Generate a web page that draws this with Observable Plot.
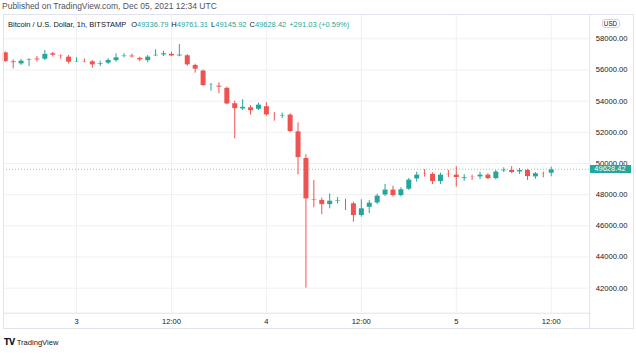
<!DOCTYPE html>
<html><head><meta charset="utf-8">
<script src="https://cdn.jsdelivr.net/npm/d3@7"></script>
<script src="https://cdn.jsdelivr.net/npm/@observablehq/plot@0.6"></script>
<style>
html,body{margin:0;padding:0;background:#fff;width:636px;height:353px;overflow:hidden;font-family:"Liberation Sans",Arial,sans-serif;}
#wrap{position:relative;width:636px;height:353px;}
#chart{position:absolute;left:0;top:0;}
.abs{position:absolute;white-space:nowrap;}
#title{left:2px;top:1px;font-size:8.5px;color:#50535e;}
#legend{left:8px;top:20px;font-size:7.5px;color:#131722;}
#legend .v{color:#26a69a;}
#legend .k{margin-left:3px;}
#usd{left:601.5px;top:19px;width:18px;height:9px;border:1px solid #d1d4dc;border-radius:3px;box-sizing:border-box;font-size:6.3px;line-height:7px;text-align:center;color:#131722;}
#badge{left:589.5px;width:41px;height:8px;background:#26a69a;color:#fff;font-size:7.5px;line-height:8px;text-align:center;}
#outer{left:3px;top:14px;width:630.5px;height:314.5px;border:1px solid #e0e3eb;box-sizing:border-box;}
#sep{left:589px;top:312px;width:1px;height:16px;background:#e0e3eb;}
#logo{left:4px;top:338px;font-size:7.6px;color:#131722;}
#logo b{font-family:"DejaVu Sans",sans-serif;font-weight:900;font-size:8px;letter-spacing:-0.5px;margin-right:2px;}
</style></head><body><div id="wrap">
<div id="chart"></div>
<div class="abs" id="outer"></div>
<div class="abs" id="sep"></div>
<div class="abs" id="title">Published on TradingView.com, Dec 05, 2021 12:34 UTC</div>
<div class="abs" id="legend"></div>
<div class="abs" id="usd">USD</div>
<div class="abs" id="badge"></div>
<div class="abs" id="logo"><b>TV</b>TradingView</div>
</div>
<script>
// ---- data (1h candles, Bitcoin / U.S. Dollar, BITSTAMP) ----
const firstCandleUTC = "2021-12-02T15:00:00Z";
const opens  = [57140,56560,56350,56600,56740,56650,57080,56950,56860,56500,56560,56560,56310,56400,56560,56820,56930,56780,56560,56870,
                56930,57040,56860,56950,56330,55970,54980,55000,54860,53870,53460,53610,53440,53680,53140,53010,53140,52070,50360,47730,
                47670,47320,47550,47600,47450,46620,47150,47430,47940,48330,47900,48310,48970,49380,49340,48800,49340,49290,48990,49190,
                49100,49290,48990,49490,49590,49420,49590,49100,49400,49336.79];
const highs  = [57160,56650,56670,56720,56860,57250,57120,56960,56930,56780,56700,56610,56560,56720,57040,57040,57010,56820,56930,57300,
                57200,57140,57630,56990,56370,55990,55130,55180,54890,54000,54090,53720,53870,53910,53270,53230,53190,52610,50560,48910,
                47780,48050,47830,47710,47520,47670,47620,48030,48650,48540,48440,49040,49440,49610,49400,49380,49550,49800,49290,49250,
                49440,49340,49550,49720,49800,49680,49630,49420,49440,49761.31];
const lows   = [56480,56075,56290,56220,56500,56600,56830,56690,56380,56480,56460,56110,56220,56350,56500,56780,56760,56520,56460,56850,
                56860,56840,56840,56240,55790,54940,54640,54470,53770,51580,53400,53100,53400,53030,52710,52870,51970,49270,42000,47160,
                46720,47090,47410,46980,46230,46550,46780,47370,47880,47840,47860,48270,48800,49120,48650,48650,49100,48480,48860,48910,
                48970,48950,48950,49420,49340,49290,48910,48990,49080,49145.92];
const closes = [56500,56430,56600,56710,56610,57040,56910,56890,56460,56560,56500,56290,56430,56650,56820,56930,56800,56610,56860,56980,
                57080,56860,56990,56290,56010,54960,55070,54860,53780,53480,53640,53350,53780,53080,53060,53120,52010,50340,47690,47620,
                47320,47620,47660,47520,46620,47130,47490,47940,48330,47900,48350,48970,49290,49290,48800,49290,49250,49060,49120,49100,
                49290,48990,49490,49610,49380,49590,49120,49380,49310,49628.42];
const priceTicks = [42000,44000,46000,48000,50000,52000,54000,56000,58000];
const timeTicks = ["2021-12-03T00:00:00Z","2021-12-03T12:00:00Z","2021-12-04T00:00:00Z","2021-12-04T12:00:00Z","2021-12-05T00:00:00Z","2021-12-05T12:00:00Z"];
const timeTickLabels = ["3","12:00","4","12:00","5","12:00"];
const legendChange = "+291.03 (+0.59%)";

// ---- build ----
const H = 3600e3;
const t0 = Date.parse(firstCandleUTC);
const candles = opens.map((o,i)=>({t:new Date(t0+i*H), o, h:highs[i], l:lows[i], c:closes[i]}));
const UP="#26a69a", DN="#ef5350";
const col = d => d.c >= d.o ? UP : DN;
const tickDates = timeTicks.map(s=>new Date(s));
const labelOf = new Map(tickDates.map((d,i)=>[+d, timeTickLabels[i]]));
const day3 = Date.parse(timeTicks[0]);
const last = candles[candles.length-1];

const plot = Plot.plot({
  width:636, height:353,
  marginTop:14, marginBottom:40.3, marginLeft:3, marginRight:46.7,
  style:{fontFamily:"'Liberation Sans', Arial, sans-serif", fontSize:"7.6px", background:"transparent"},
  x:{type:"utc", domain:[new Date(day3-9.226*H), new Date(day3+64.876*H)], label:null},
  y:{domain:[40393,59559], label:null},
  color:{type:"identity"},
  marks:[
    Plot.gridY(priceTicks,{stroke:"#eef0f4", strokeOpacity:1}),
    Plot.gridX(tickDates,{stroke:"#eef0f4", strokeOpacity:1}),
    Plot.frame({stroke:"#e0e3eb"}),
    Plot.ruleY([last.c],{stroke:"#7fcbc3", strokeDasharray:"1,2"}),
    Plot.ruleX(candles,{x:"t", y1:"l", y2:"h", stroke:col, strokeWidth:1}),
    Plot.ruleX(candles,{x:"t", y1:d=>Math.min(d.o,d.c), y2:d=>Math.max(d.o,d.c), stroke:col, strokeWidth:5, insetTop:-0.6, insetBottom:-0.6}),
    Plot.axisY(priceTicks,{anchor:"right", label:null, tickSize:0, tickPadding:6, tickFormat:d=>d.toFixed(2), fill:"#131722", fontSize:7.6}),
    Plot.axisX(tickDates,{anchor:"bottom", label:null, tickSize:0, tickPadding:5.5, tickFormat:d=>labelOf.get(+d), fill:"#131722", fontSize:7.6})
  ]
});
document.getElementById("chart").appendChild(plot);

const yScale = plot.scale("y");
const badge = document.getElementById("badge");
badge.textContent = last.c.toFixed(2);
badge.style.top = (yScale.apply(last.c) - 4) + "px";

document.getElementById("legend").innerHTML =
  `Bitcoin / U.S. Dollar, 1h, BITSTAMP <span class="k">O</span><span class="v">${last.o.toFixed(2)}</span>` +
  `<span class="k">H</span><span class="v">${last.h.toFixed(2)}</span>` +
  `<span class="k">L</span><span class="v">${last.l.toFixed(2)}</span>` +
  `<span class="k">C</span><span class="v">${last.c.toFixed(2)}</span>` +
  `<span class="v" style="margin-left:3px">${legendChange}</span>`;
</script>
</body></html>
